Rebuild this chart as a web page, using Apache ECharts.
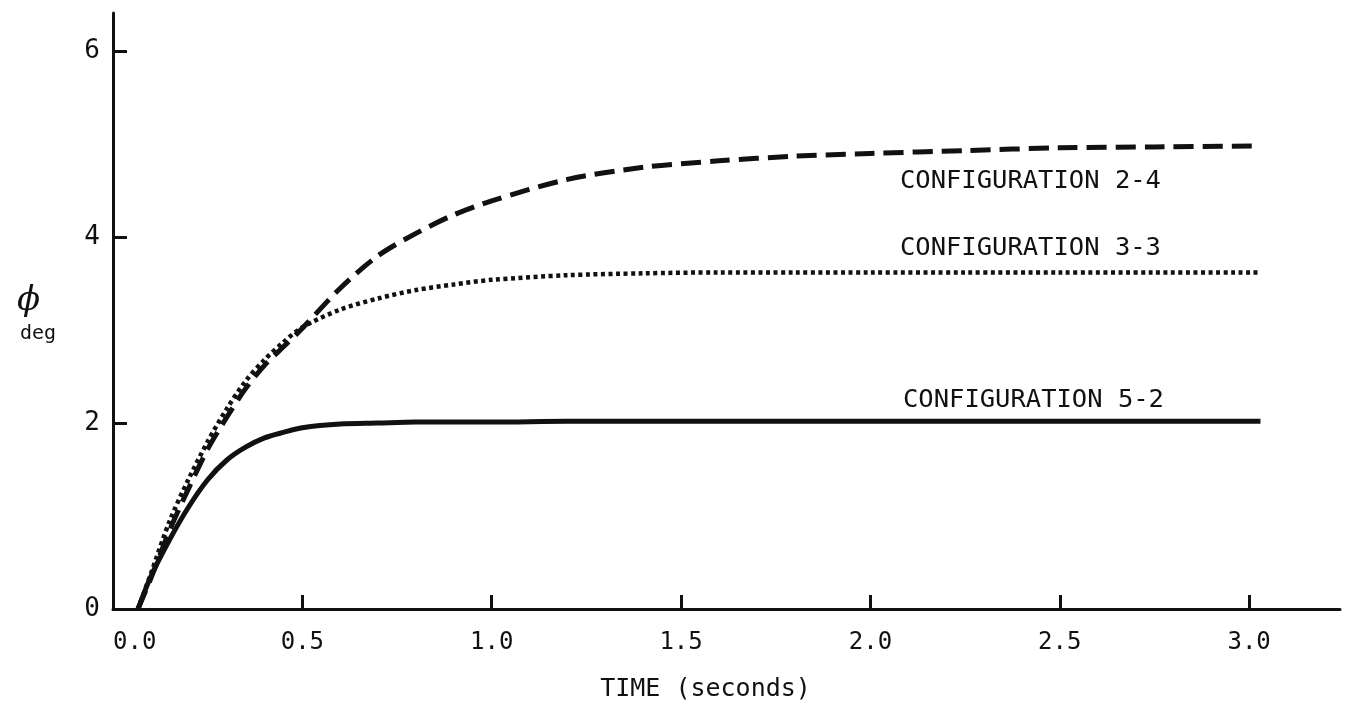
<!DOCTYPE html>
<html>
<head>
<meta charset="utf-8">
<title>Roll response: configurations 2-4, 3-3, 5-2</title>
<script src="https://cdn.jsdelivr.net/npm/echarts@6/dist/echarts.min.js"></script>
<style>
  html, body { margin: 0; padding: 0; background: #fff; }
  #chart { width: 1345px; height: 713px; }
</style>
</head>
<body>
<div id="chart"></div>
<script>
// Time samples (seconds)
const time = [0.066, 0.1, 0.15, 0.2, 0.25, 0.3, 0.35, 0.4, 0.45, 0.5, 0.6, 0.7, 0.8, 0.9, 1.0,
              1.2, 1.4, 1.6, 1.8, 2.0, 2.25, 2.5, 2.75, 3.03];

// Bank angle phi (deg) for each configuration
const config24 = [0, 0.33, 0.85, 1.30, 1.72, 2.06, 2.37, 2.62, 2.82, 3.02, 3.45, 3.80, 4.04, 4.24, 4.39,
                  4.62, 4.75, 4.82, 4.87, 4.90, 4.93, 4.96, 4.97, 4.98];
const config33 = [0, 0.38, 0.95, 1.40, 1.80, 2.15, 2.45, 2.68, 2.87, 3.03, 3.22, 3.34, 3.43, 3.49, 3.54,
                  3.59, 3.61, 3.62, 3.62, 3.62, 3.62, 3.62, 3.62, 3.62];
const config52 = [0, 0.35, 0.75, 1.10, 1.39, 1.60, 1.74, 1.84, 1.90, 1.95, 1.99, 2.00, 2.01, 2.01, 2.01,
                  2.02, 2.02, 2.02, 2.02, 2.02, 2.02, 2.02, 2.02, 2.02];

// Axis tick values
const xTicks = [0, 0.5, 1.0, 1.5, 2.0, 2.5, 3.0];
const yTicks = [0, 2, 4, 6];

// Curve labels and where they sit (data coordinates of the label's left-middle)
const labelNames = ['CONFIGURATION 2-4', 'CONFIGURATION 3-3', 'CONFIGURATION 5-2'];
const labelAnchors = [[2.078, 4.60], [2.078, 3.88], [2.086, 2.24]];

const FONT = '"DejaVu Sans Mono", "Liberation Mono", monospace';
const INK = '#111';

const pairs = arr => time.map((t, i) => [t, arr[i]]);

function curveLabel(i) {
  return {
    symbol: 'circle',
    symbolSize: 0,
    silent: true,
    data: [{
      coord: labelAnchors[i],
      label: {
        show: true,
        position: 'right',
        distance: 0,
        formatter: labelNames[i],
        color: INK,
        fontFamily: FONT,
        fontSize: 25.5
      }
    }]
  };
}

const chart = echarts.init(document.getElementById('chart'), null, { renderer: 'canvas' });

chart.setOption({
  animation: false,
  backgroundColor: '#fff',
  grid: { left: 113, right: 5, top: 13, bottom: 104, outerBoundsMode: 'none' },
  xAxis: {
    type: 'value',
    min: 0,
    max: 3.24,
    name: 'TIME (seconds)',
    nameLocation: 'middle',
    nameGap: 68,
    nameTextStyle: { color: INK, fontFamily: FONT, fontSize: 25, padding: [0, 42, 0, 0] },
    axisLine: { lineStyle: { color: INK, width: 3 } },
    axisTick: { inside: true, length: 14, customValues: xTicks, lineStyle: { color: INK, width: 3 } },
    axisLabel: {
      customValues: xTicks,
      alignMinLabel: 'left',
      margin: 22,
      color: INK,
      fontFamily: FONT,
      fontSize: 24,
      formatter: v => v.toFixed(1)
    },
    splitLine: { show: false }
  },
  yAxis: {
    type: 'value',
    min: 0,
    max: 6.41,
    axisLine: { show: true, lineStyle: { color: INK, width: 3 } },
    axisTick: { show: true, inside: true, length: 14, customValues: yTicks, lineStyle: { color: INK, width: 3 } },
    axisLabel: {
      customValues: yTicks,
      margin: 13,
      color: INK,
      fontFamily: FONT,
      fontSize: 26
    },
    splitLine: { show: false }
  },
  graphic: [
    {
      type: 'text', left: 17, top: 284,
      style: { text: 'ϕ', fill: INK, font: 'italic 34px "DejaVu Serif", serif' }
    },
    {
      type: 'text', left: 20, top: 324,
      style: { text: 'deg', fill: INK, font: '20px ' + FONT }
    }
  ],
  series: [
    {
      name: labelNames[0],
      type: 'line',
      data: pairs(config24),
      showSymbol: false,
      smooth: 0.3,
      lineStyle: { color: INK, width: 5, type: [20, 9], cap: 'butt' },
      markPoint: curveLabel(0)
    },
    {
      name: labelNames[1],
      type: 'line',
      data: pairs(config33),
      showSymbol: false,
      smooth: 0.3,
      lineStyle: { color: INK, width: 4.5, type: [4, 3.5], cap: 'butt' },
      markPoint: curveLabel(1)
    },
    {
      name: labelNames[2],
      type: 'line',
      data: pairs(config52),
      showSymbol: false,
      smooth: 0.3,
      lineStyle: { color: INK, width: 5 },
      markPoint: curveLabel(2)
    }
  ]
});
</script>
</body>
</html>
